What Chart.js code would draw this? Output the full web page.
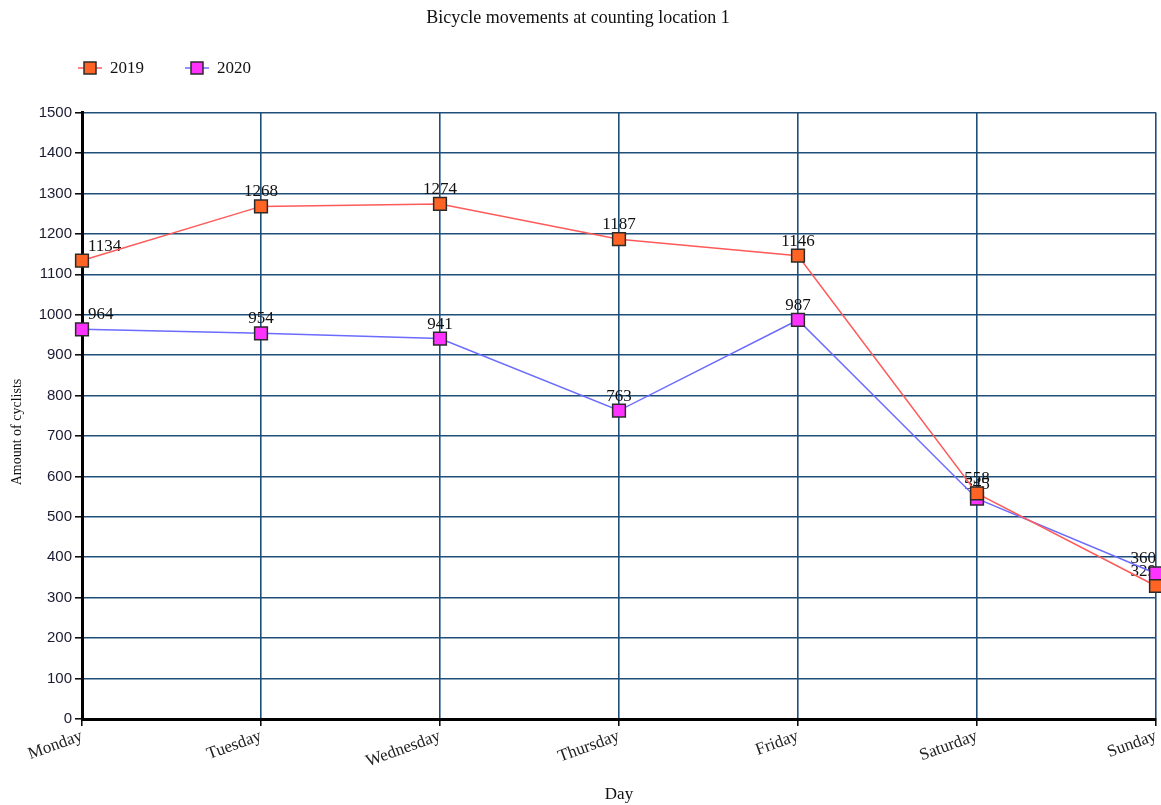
<!DOCTYPE html>
<html>
<head>
<meta charset="utf-8">
<title>Bicycle movements at counting location 1</title>
<script src="https://cdn.jsdelivr.net/npm/chart.js@4/dist/chart.umd.min.js"></script>
<style>
  html, body { margin: 0; padding: 0; background: #fff; }
  #wrap { width: 1161px; height: 805px; position: relative; }
</style>
</head>
<body>
<div id="wrap"><canvas id="chart"></canvas></div>
<script>
// Days of the week on the horizontal axis
const days = ['Monday', 'Tuesday', 'Wednesday', 'Thursday', 'Friday', 'Saturday', 'Sunday'];

// Cyclists counted per day
const counts2019 = [1134, 1268, 1274, 1187, 1146, 558, 329];
const counts2020 = [964, 954, 941, 763, 987, 545, 360];

// Vertical axis range
const yMin = 0;
const yMax = 1500;
const yStep = 100;

const seriesNames = ['2019', '2020'];
const lineColors = ['#ff5a5a', '#6b6bff'];
const markerColors = ['#ff6424', '#ff33ff'];
const markerBorder = '#2b2b2b';

const serif = "'Liberation Serif', 'DejaVu Serif', serif";
const sans = "'Liberation Sans', 'DejaVu Sans', sans-serif";

// Value text above each point, kept inside the plot area horizontally
const valueLabels = {
  id: 'valueLabels',
  beforeDatasetsDraw(chart) {
    const { ctx, chartArea } = chart;
    ctx.save();
    ctx.font = '17px ' + serif;
    ctx.fillStyle = '#111';
    ctx.textAlign = 'left';
    ctx.textBaseline = 'alphabetic';
    chart.data.datasets.forEach((ds, i) => {
      const meta = chart.getDatasetMeta(i);
      meta.data.forEach((pt, j) => {
        const txt = String(ds.data[j]);
        const w = ctx.measureText(txt).width;
        let x = pt.x - w / 2;
        if (x < chartArea.left + 6) x = chartArea.left + 6;
        if (x + w > chartArea.right) x = chartArea.right - w;
        ctx.fillText(txt, x, pt.y - 10);
      });
    });
    ctx.restore();
  }
};

// Legend row and vertical axis caption
const lineLegend = {
  id: 'lineLegend',
  afterDraw(chart) {
    const { ctx } = chart;
    const y = 68;
    const starts = [78, 185];
    ctx.save();
    ctx.font = '17px ' + serif;
    ctx.textBaseline = 'middle';
    seriesNames.forEach((name, i) => {
      const x0 = starts[i];
      ctx.strokeStyle = lineColors[i];
      ctx.lineWidth = 1.5;
      ctx.beginPath();
      ctx.moveTo(x0, y);
      ctx.lineTo(x0 + 24, y);
      ctx.stroke();
      ctx.fillStyle = markerColors[i];
      ctx.fillRect(x0 + 6, y - 6, 12, 12);
      ctx.strokeStyle = markerBorder;
      ctx.lineWidth = 1.5;
      ctx.strokeRect(x0 + 6, y - 6, 12, 12);
      ctx.fillStyle = '#111';
      ctx.textAlign = 'left';
      ctx.fillText(name, x0 + 32, y + 1);
    });

    // "Amount of cyclists" beside the vertical axis
    ctx.translate(17, 432);
    ctx.rotate(-Math.PI / 2);
    ctx.font = '14px ' + serif;
    ctx.textAlign = 'center';
    ctx.textBaseline = 'middle';
    ctx.fillText('Amount of cyclists', 0, 0);
    ctx.restore();
  }
};

new Chart(document.getElementById('chart'), {
  type: 'line',
  data: {
    labels: days,
    datasets: [counts2019, counts2020].map((values, i) => ({
      label: seriesNames[i],
      data: values,
      borderColor: lineColors[i],
      borderWidth: 1.5,
      backgroundColor: markerColors[i],
      pointStyle: 'rect',
      pointRadius: 9,
      pointHoverRadius: 9,
      pointBackgroundColor: markerColors[i],
      pointBorderColor: markerBorder,
      pointBorderWidth: 1.5,
      tension: 0,
      fill: false,
      clip: false
    }))
  },
  options: {
    responsive: true,
    maintainAspectRatio: false,
    animation: false,
    events: [],
    layout: { autoPadding: false, padding: { left: 0, right: 5, top: 0, bottom: 0 } },
    plugins: {
      legend: { display: false },
      tooltip: { enabled: false },
      title: {
        display: true,
        text: 'Bicycle movements at counting location 1',
        color: '#111',
        font: { family: serif, size: 18, weight: 'normal' },
        padding: { top: 7, bottom: 84 }
      }
    },
    scales: {
      x: {
        offset: false,
        grid: {
          color: '#1f4e79',
          lineWidth: 1.6,
          tickColor: '#000',
          tickLength: 7,
          tickWidth: 1.5
        },
        border: { color: '#000', width: 3 },
        ticks: {
          color: '#222',
          font: { family: serif, size: 17 },
          minRotation: 20,
          maxRotation: 20,
          padding: 0,
          autoSkip: false
        },
        title: {
          display: true,
          text: 'Day',
          color: '#111',
          font: { family: serif, size: 17 },
          padding: { top: 2, bottom: 0 }
        },
        afterFit(scale) {
          scale.height = 86;
          scale.paddingLeft = 0;
          scale.paddingRight = 0;
        }
      },
      y: {
        min: yMin,
        max: yMax,
        grid: {
          color: '#1f4e79',
          lineWidth: 1.6,
          tickColor: '#000',
          tickLength: 7,
          tickWidth: 1.5
        },
        border: { color: '#000', width: 3 },
        ticks: {
          stepSize: yStep,
          color: '#1a1a33',
          font: { family: sans, size: 15 },
          padding: 3,
          callback: (v) => String(v)
        },
        title: { display: false },
        afterFit(scale) {
          scale.width = 82;
          scale.paddingTop = 0;
          scale.paddingBottom = 0;
        }
      }
    }
  },
  plugins: [valueLabels, lineLegend]
});
</script>
</body>
</html>
